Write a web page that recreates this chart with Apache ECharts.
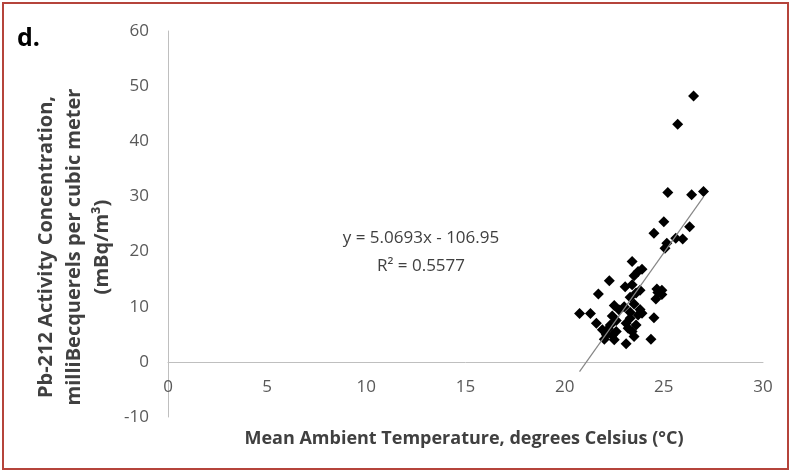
<!DOCTYPE html>
<html>
<head>
<meta charset="utf-8">
<script src="https://cdn.jsdelivr.net/npm/echarts@6/dist/echarts.min.js"></script>
<style>
html,body{margin:0;padding:0;background:#fff;}
#chart{width:791px;height:472px;}
</style>
</head>
<body>
<div id="chart"></div>
<script>
// Mean ambient temperature (°C)
const tempX = [
  26.5, 25.7, 25.2, 26.4, 27.0,
  25.0, 26.3, 24.5, 25.6, 25.95, 25.15, 25.06,
  23.4, 23.7, 23.5, 22.25, 23.05, 23.8, 24.65, 24.9,
  21.7, 23.3, 24.6, 23.5, 22.75, 20.75, 21.3, 22.4, 23.9,
  23.3, 24.5, 21.6, 22.3, 23.6, 21.9, 23.2, 22.1, 23.5,
  22.5, 24.35, 23.1, 22.0,
  23.0, 23.3, 22.6, 22.2, 22.6, 23.8, 23.6, 23.4, 23.9,
  22.5, 23.1, 22.4, 24.9, 24.7, 23.7, 23.4
];
// Pb-212 activity concentration (mBq/m³)
const pbY = [
  48.2, 43.1, 30.7, 30.3, 30.9,
  25.4, 24.5, 23.3, 22.4, 22.3, 21.5, 20.6,
  18.2, 16.4, 15.6, 14.7, 13.6, 13.0, 13.2, 13.0,
  12.3, 11.7, 11.4, 10.5, 9.4, 8.75, 8.75, 8.3, 8.8,
  7.9, 8.0, 7.0, 6.7, 6.7, 5.8, 6.1, 4.9, 4.6,
  4.0, 4.1, 3.3, 4.1,
  10.0, 9.0, 7.5, 6.0, 5.5, 9.5, 12.5, 14.0, 16.8,
  10.2, 7.0, 4.8, 12.2, 12.6, 8.5, 5.5
];
// Linear trendline y = 5.0693x - 106.95 over the data range
const slope = 5.0693;
const intercept = -106.95;
const trendX = [20.75, 27.0];

const xTicks = { min: 0, max: 30, interval: 5 };
const yTicks = { min: -10, max: 60, interval: 10 };

const points = tempX.map((x, i) => [x, pbY[i]]);
const trend = trendX.map(x => [x, slope * x + intercept]);

const gridTop = 31, gridBottom = 55, chartH = 472;
const plotH = chartH - gridTop - gridBottom;
const zeroOffset = plotH * (0 - yTicks.min) / (yTicks.max - yTicks.min);

const chart = echarts.init(document.getElementById('chart'), null, { renderer: 'canvas' });
const font = '"Open Sans", "Liberation Sans", sans-serif';
chart.setOption({
  animation: false,
  backgroundColor: '#ffffff',
  grid: { left: 168, right: 28, top: gridTop, bottom: gridBottom, containLabel: false },
  xAxis: {
    type: 'value', min: xTicks.min, max: xTicks.max, interval: xTicks.interval,
    offset: -zeroOffset,
    axisLine: { show: true, onZero: false, lineStyle: { color: '#bfbfbf', width: 1 } },
    axisTick: { show: false },
    splitLine: { show: false },
    axisLabel: { color: '#595959', fontSize: 17, fontFamily: font, margin: 17 }
  },
  yAxis: {
    type: 'value', min: yTicks.min, max: yTicks.max, interval: yTicks.interval,
    axisLine: { show: true, onZero: false, lineStyle: { color: '#bfbfbf', width: 1 } },
    axisTick: { show: false },
    splitLine: { show: false },
    axisLabel: { color: '#595959', fontSize: 17, fontFamily: font, margin: 19 }
  },
  series: [
    {
      type: 'scatter', data: points, symbol: 'diamond', symbolSize: 11,
      itemStyle: { color: '#000000', opacity: 1 }, z: 3
    },
    {
      type: 'line', data: trend, symbol: 'none', silent: true,
      lineStyle: { color: '#868686', width: 1.2 }, z: 4
    }
  ],
  graphic: [
    { type: 'rect', shape: { x: 3, y: 3, width: 785, height: 466 },
      style: { fill: 'none', stroke: '#b5443b', lineWidth: 2 } },
    { type: 'text', left: 17, top: 26,
      style: { text: 'd.', font: 'bold 25px ' + font, fill: '#000' } },
    { type: 'text', x: 74, y: 247, rotation: Math.PI / 2,
      style: { text: 'Pb-212 Activity Concentration,\nmilliBecquerels per cubic meter\n(mBq/m³)',
        font: 'bold 20px ' + font, fill: '#404040', align: 'center', verticalAlign: 'middle', lineHeight: 28 } },
    { type: 'text', x: 464, y: 439,
      style: { text: 'Mean Ambient Temperature, degrees Celsius (°C)',
        font: 'bold 18px ' + font, fill: '#404040', align: 'center', verticalAlign: 'middle' } },
    { type: 'text', x: 421, y: 252,
      style: { text: 'y = 5.0693x - 106.95\nR² = 0.5577',
        font: '17px ' + font, fill: '#404040', align: 'center', verticalAlign: 'middle', lineHeight: 28 } }
  ]
});
</script>
</body>
</html>
